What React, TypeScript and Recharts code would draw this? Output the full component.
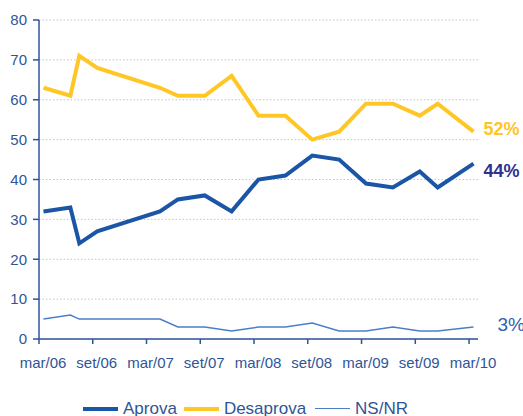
import React from "react";
import { LineChart, Line, XAxis, YAxis, CartesianGrid } from "recharts";

// survey dates (Portuguese month abbreviations)
const surveyDates = [
  "mar/06", "jun/06", "jul/06", "set/06", "abr/07", "jun/07", "set/07", "dez/07",
  "mar/08", "jun/08", "set/08", "dez/08", "mar/09", "jun/09", "set/09", "nov/09", "mar/10",
];
const aprova = [32, 33, 24, 27, 32, 35, 36, 32, 40, 41, 46, 45, 39, 38, 42, 38, 44];
const desaprova = [63, 61, 71, 68, 63, 61, 61, 66, 56, 56, 50, 52, 59, 59, 56, 59, 52];
const nsnr = [5, 6, 5, 5, 5, 3, 3, 2, 3, 3, 4, 2, 2, 3, 2, 2, 3];

const xTickLabels = ["mar/06", "set/06", "mar/07", "set/07", "mar/08", "set/08", "mar/09", "set/09", "mar/10"];
const yTicks = [0, 10, 20, 30, 40, 50, 60, 70, 80];

const MONTHS = ["jan", "fev", "mar", "abr", "mai", "jun", "jul", "ago", "set", "out", "nov", "dez"];

// months since mar/06
function monthIndex(label: string): number {
  const [m, y] = label.split("/");
  return (Number(y) - 6) * 12 + MONTHS.indexOf(m) - 2;
}

const data = surveyDates.map((d, i) => ({
  date: d,
  t: monthIndex(d) + 0.5, // mid-month
  aprova: aprova[i],
  desaprova: desaprova[i],
  nsnr: nsnr[i],
}));

const SERIES = [
  { key: "aprova", name: "Aprova", color: "#1A55A6", width: 4, labelColor: "#2E3192", bold: true, dx: 10, dy: 7, size: 18 },
  { key: "desaprova", name: "Desaprova", color: "#FFC726", width: 4, labelColor: "#FFC526", bold: true, dx: 10, dy: -3, size: 18 },
  { key: "nsnr", name: "NS/NR", color: "#4A7FC8", width: 1.5, labelColor: "#2F62B0", bold: false, dx: 24, dy: -3, size: 19 },
];

const FONT = "'Liberation Sans', Arial, sans-serif";
const AXIS_COLOR = "#2F5597";
const last = data.length - 1;

export default function App() {
  return (
    <div style={{ position: "absolute", left: 0, top: 0, width: 523, height: 416, background: "#fff", fontFamily: FONT, overflow: "hidden" }}>
      <LineChart width={523} height={416} data={data} margin={{ top: 20, right: 45, bottom: 0, left: 0 }}>
        <CartesianGrid vertical={false} stroke="#C4C4C4" strokeDasharray="1.5 2" />
        <XAxis
          type="number"
          dataKey="t"
          domain={[0, 49]}
          ticks={xTickLabels.map(monthIndex)}
          tickFormatter={(v) => xTickLabels[xTickLabels.map(monthIndex).indexOf(v)] ?? ""}
          height={77}
          stroke={AXIS_COLOR}
          strokeWidth={1.5}
          tickSize={5}
          tickMargin={13}
          dx={4}
          tick={{ fill: AXIS_COLOR, fontSize: 15, fontFamily: FONT }}
        />
        <YAxis
          type="number"
          domain={[0, 80]}
          ticks={yTicks}
          width={39}
          stroke={AXIS_COLOR}
          strokeWidth={1.5}
          tickSize={6}
          tickMargin={6}
          tick={{ fill: AXIS_COLOR, fontSize: 15, fontFamily: FONT }}
        />
        {SERIES.map((s) => (
          <Line
            key={s.key}
            dataKey={s.key}
            type="linear"
            stroke={s.color}
            strokeWidth={s.width}
            dot={false}
            isAnimationActive={false}
            label={(p: any) =>
              p.index === last ? (
                <text
                  key={s.key + "-end"}
                  x={p.x + s.dx}
                  y={p.y + s.dy}
                  dominantBaseline="central"
                  fill={s.labelColor}
                  fontSize={s.size}
                  fontWeight={s.bold ? 700 : 400}
                  fontFamily={FONT}
                >
                  {p.value}%
                </text>
              ) : (
                <g key={s.key + "-" + p.index} />
              )
            }
          />
        ))}
      </LineChart>

      {/* legend */}
      <div style={{ position: "absolute", left: 83, top: 400, display: "flex", alignItems: "center", fontSize: 17, lineHeight: "17px", color: AXIS_COLOR, whiteSpace: "nowrap" }}>
        {SERIES.map((s, i) => (
          <div key={s.key} style={{ display: "flex", alignItems: "center", marginRight: i === 0 ? 7 : 9 }}>
            <span style={{ display: "inline-block", width: 35, height: s.width === 4 ? 4 : 1.5, background: s.color, marginRight: 5 }} />
            <span>{s.name}</span>
          </div>
        ))}
      </div>
    </div>
  );
}
